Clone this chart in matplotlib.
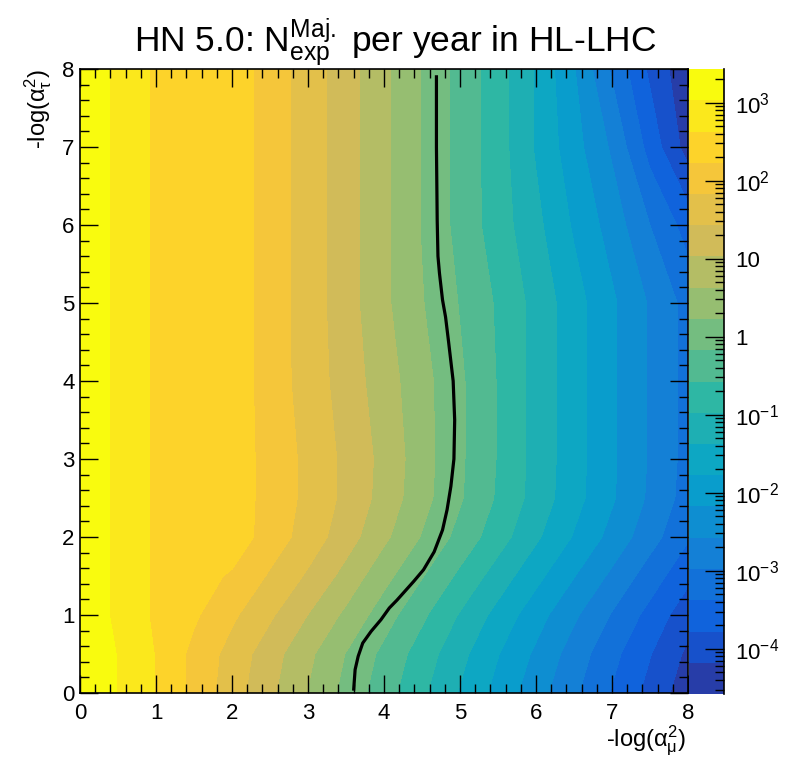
import numpy as np
import matplotlib
matplotlib.use('Agg')
import matplotlib.pyplot as plt
from matplotlib.colors import ListedColormap, BoundaryNorm, LinearSegmentedColormap
from matplotlib.ticker import MultipleLocator, FixedLocator, NullFormatter

plt.rcParams['font.family'] = ['Liberation Sans', 'DejaVu Sans']
plt.rcParams['mathtext.fontset'] = 'custom'
plt.rcParams['mathtext.rm'] = 'Liberation Sans'
plt.rcParams['mathtext.it'] = 'Liberation Sans'
plt.rcParams['mathtext.bf'] = 'Liberation Sans:bold'

# grid nodes: -log(alpha_mu^2) (x) and -log(alpha_tau^2) (y)
x_nodes = [0.0, 0.5, 1.0, 1.5, 2.0, 2.5, 3.0, 3.5, 4.0, 4.5, 5.0, 5.5, 6.0, 6.5, 7.0, 7.5, 8.0]
y_nodes = [0.0, 0.5, 1.0, 1.5, 2.0, 2.5, 3.0, 4.0, 5.0, 6.0, 7.0, 8.0]

logN_y0_0 = [3.41, 3.01, 2.61, 2.11, 1.61, 1.11, 0.61, 0.10, -0.40, -0.90, -1.41, -1.91, -2.41, -2.91, -3.41, -3.91, -4.42]
logN_y0_5 = [3.41, 3.01, 2.61, 2.12, 1.68, 1.20, 0.72, 0.21, -0.28, -0.76, -1.26, -1.76, -2.25, -2.76, -3.26, -3.76, -4.26]
logN_y1_0 = [3.34, 2.94, 2.56, 2.29, 1.90, 1.49, 1.02, 0.54, 0.01, -0.50, -1.01, -1.51, -2.01, -2.51, -3.01, -3.51, -4.03]
logN_y1_5 = [3.34, 2.94, 2.56, 2.39, 2.18, 1.78, 1.37, 0.89, 0.36, -0.15, -0.66, -1.16, -1.66, -2.16, -2.66, -3.17, -3.68]
logN_y2_0 = [3.34, 2.94, 2.56, 2.50, 2.46, 2.05, 1.65, 1.21, 0.71, 0.20, -0.31, -0.80, -1.31, -1.81, -2.31, -2.82, -3.33]
logN_y2_5 = [3.34, 2.94, 2.56, 2.50, 2.46, 2.08, 1.73, 1.33, 0.88, 0.37, -0.13, -0.63, -1.13, -1.63, -2.13, -2.65, -3.15]
logN_y3_0 = [3.34, 2.94, 2.56, 2.50, 2.46, 2.08, 1.73, 1.33, 0.91, 0.40, -0.11, -0.60, -1.11, -1.61, -2.11, -2.62, -3.12]
logN_y4_0 = [3.34, 2.94, 2.56, 2.50, 2.46, 2.05, 1.65, 1.25, 0.81, 0.37, -0.11, -0.60, -1.11, -1.61, -2.11, -2.62, -3.12]
logN_y5_0 = [3.34, 2.94, 2.56, 2.50, 2.46, 2.05, 1.64, 1.20, 0.71, 0.25, -0.20, -0.63, -1.11, -1.61, -2.11, -2.62, -3.12]
logN_y6_0 = [3.34, 2.94, 2.56, 2.50, 2.46, 2.05, 1.64, 1.20, 0.71, 0.20, -0.31, -0.78, -1.27, -1.83, -2.35, -2.98, -3.55]
logN_y7_0 = [3.34, 2.94, 2.56, 2.50, 2.46, 2.05, 1.64, 1.20, 0.71, 0.20, -0.31, -0.80, -1.42, -2.02, -2.64, -3.53, -4.35]
logN_y8_0 = [3.34, 2.94, 2.56, 2.50, 2.46, 2.05, 1.64, 1.20, 0.71, 0.20, -0.31, -0.80, -1.42, -2.15, -3.04, -3.86, -4.50]

# black sensitivity curve
curve_y = [0.03, 0.30, 0.47, 0.64, 0.79, 0.94, 1.09, 1.19, 1.43, 1.58, 1.81, 2.09, 2.35, 2.65,
           3.00, 3.50, 4.00, 4.50, 4.82, 5.04, 5.38, 5.60, 6.06, 7.00, 7.92]
curve_x = [3.60, 3.62, 3.66, 3.72, 3.83, 3.96, 4.07, 4.17, 4.39, 4.52, 4.66, 4.77, 4.83, 4.88,
           4.92, 4.93, 4.91, 4.85, 4.81, 4.77, 4.73, 4.71, 4.70, 4.69, 4.69]

# colour axis range (log10) and number of contour bands
z_lo, z_hi = -4.58, 3.43
n_bands = 20
cbar_ticks = [-4, -3, -2, -1, 0, 1, 2, 3]
cbar_labels = ['$10^{-4}$', '$10^{-3}$', '$10^{-2}$', '$10^{-1}$', '1', '10', '$10^{2}$', '$10^{3}$']

Z = np.array([logN_y0_0, logN_y0_5, logN_y1_0, logN_y1_5, logN_y2_0, logN_y2_5,
              logN_y3_0, logN_y4_0, logN_y5_0, logN_y6_0, logN_y7_0, logN_y8_0])

# ROOT kBird palette
stops = [0.0, 0.125, 0.25, 0.375, 0.5, 0.625, 0.75, 0.875, 1.0]
red = [0.2082, 0.0592, 0.0780, 0.0232, 0.1802, 0.5301, 0.8186, 0.9956, 0.9764]
green = [0.1664, 0.3599, 0.5041, 0.6419, 0.7178, 0.7492, 0.7328, 0.7862, 0.9832]
blue = [0.5293, 0.8684, 0.8385, 0.7914, 0.6425, 0.4662, 0.3499, 0.1968, 0.0539]
bird = LinearSegmentedColormap.from_list('bird', list(zip(stops, zip(red, green, blue))), N=255)
band_colors = [bird(int((i + 0.99) * 255 / n_bands) / 254) for i in range(n_bands)]
cmap = ListedColormap(band_colors)
levels = np.linspace(z_lo, z_hi, n_bands + 1)
norm = BoundaryNorm(levels, n_bands)

fig = plt.figure(figsize=(7.96, 7.72), dpi=100)
W, H = 796.0, 772.0
ax = fig.add_axes([80 / W, 1 - 693 / H, 608 / W, 624 / H])
cax = fig.add_axes([689 / W, 1 - 694 / H, 35 / W, 625 / H])

cs = ax.contourf(x_nodes, y_nodes, Z, levels=levels, cmap=cmap, norm=norm)
ax.plot(curve_x, curve_y, color='black', lw=2.3, solid_capstyle='butt')

ax.set_xlim(0, 8)
ax.set_ylim(0, 8)
ax.xaxis.set_major_locator(MultipleLocator(1))
ax.xaxis.set_minor_locator(MultipleLocator(0.2))
ax.yaxis.set_major_locator(MultipleLocator(1))
ax.yaxis.set_minor_locator(MultipleLocator(0.2))
ax.tick_params(which='both', direction='in', top=True, right=True, width=1.0, labelsize=16)
ax.tick_params(which='major', length=13)
ax.tick_params(which='minor', length=6.5)
ax.tick_params(axis='x', pad=7)
ax.tick_params(axis='y', pad=4)
for sp in ax.spines.values():
    sp.set_linewidth(1.2)

cb = fig.colorbar(cs, cax=cax)
cb.outline.set_visible(False)
cax.spines['right'].set_visible(True)
cax.spines['right'].set_linewidth(1.2)
cax.set_ylim(z_lo, z_hi)
cax.yaxis.set_major_locator(FixedLocator(cbar_ticks))
cax.set_yticklabels(cbar_labels)
minor = [np.log10(m) + d for d in range(-5, 4) for m in range(2, 10)]
minor = [v for v in minor if z_lo < v < z_hi]
cax.yaxis.set_minor_locator(FixedLocator(minor))
cax.yaxis.set_minor_formatter(NullFormatter())
cax.tick_params(which='both', direction='in', left=False, right=True, width=1.0, labelsize=16, pad=8)
cax.tick_params(which='major', length=13.5)
cax.tick_params(which='minor', length=6.5)

fig.text(0.497, 1 - 52 / H, r'HN 5.0: N$_{\mathrm{exp}}^{\mathrm{Maj.}}$ per year in HL-LHC',
         ha='center', va='baseline', fontsize=25.5)
fig.text(686 / W, 1 - 746 / H, r'-log($\alpha_{\mu}^{2}$)', ha='right', va='baseline', fontsize=17)
fig.text(38 / W, 1 - 69 / H, r'-log($\alpha_{\tau}^{2}$)', ha='center', va='top', rotation=90, fontsize=17)

fig.savefig('out.png', dpi=100)
